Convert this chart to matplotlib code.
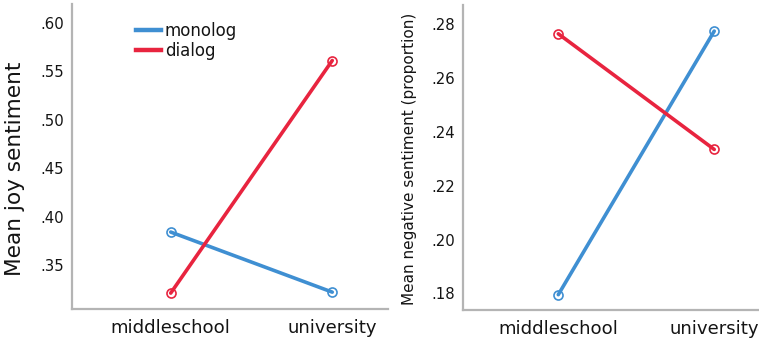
import matplotlib
matplotlib.use("Agg")
import matplotlib.pyplot as plt
from matplotlib.lines import Line2D
from matplotlib.ticker import FuncFormatter

# Data
groups = ["middleschool", "university"]
joy_monolog = [0.384, 0.322]
joy_dialog = [0.321, 0.561]
neg_monolog = [0.1795, 0.2775]
neg_dialog = [0.2765, 0.2335]
joy_ticks = [0.35, 0.40, 0.45, 0.50, 0.55, 0.60]
neg_ticks = [0.18, 0.20, 0.22, 0.24, 0.26, 0.28]
series_names = ["monolog", "dialog"]

BLUE = "#3f8fd2"
RED = "#e8243f"
SPINE = "#b4b4b4"
TEXT = "#141414"

plt.rcParams["font.family"] = ["DejaVu Sans"]

W, H = 759, 343
fig = plt.figure(figsize=(W / 100, H / 100), dpi=100)

ax1 = fig.add_axes([72 / W, 1 - 309 / H, (388 - 72) / W, (309 - 4) / H])
ax2 = fig.add_axes([463 / W, 1 - 310 / H, (759 - 463) / W, (310 - 5) / H])

def strip_zero(v, pos):
    s = f"{v:.2f}"
    return s[1:] if s.startswith("0") else s

def style(ax, ticks, ylim, xlim):
    ax.set_xlim(*xlim)
    ax.set_ylim(*ylim)
    ax.set_yticks(ticks)
    ax.yaxis.set_major_formatter(FuncFormatter(strip_zero))
    ax.set_xticks(range(len(groups)))
    ax.set_xticklabels(groups)
    for side in ("top", "right"):
        ax.spines[side].set_visible(False)
    for side in ("left", "bottom"):
        ax.spines[side].set_color(SPINE)
        ax.spines[side].set_linewidth(1.6)
    ax.tick_params(axis="both", length=0, colors=TEXT)
    ax.tick_params(axis="x", labelsize=13.1, pad=7)
    ax.tick_params(axis="y", labelsize=10.7, pad=6)

def series(ax, vals, color, label):
    ax.plot(range(len(groups)), vals, color=color, lw=2.6, label=label,
            marker="o", ms=6.5, mfc="none", mec=color, mew=1.2,
            solid_capstyle="round")

series(ax1, joy_monolog, BLUE, series_names[0])
series(ax1, joy_dialog, RED, series_names[1])
style(ax1, joy_ticks, (0.3046, 0.6193), (-0.611, 1.345))
ax1.set_ylabel("Mean joy sentiment", fontsize=15.6, color=TEXT)
ax1.yaxis.set_label_coords(-0.150, 0.459)

handles = [Line2D([], [], color=c, lw=3.2) for c in (BLUE, RED)]
ax1.legend(handles, series_names, loc="upper left",
           bbox_to_anchor=(0.18, 0.962), frameon=False,
           fontsize=12, handlelength=1.5, handletextpad=0.25,
           labelspacing=0.12, borderaxespad=0.0, labelcolor=TEXT)

series(ax2, neg_monolog, BLUE, series_names[0])
series(ax2, neg_dialog, RED, series_names[1])
style(ax2, neg_ticks, (0.1738, 0.2872), (-0.611, 1.287))
ax2.set_ylabel("Mean negative sentiment (proportion)", fontsize=11.0,
               color=TEXT)
ax2.yaxis.set_label_coords(-0.155, 0.495)

fig.savefig("out.png", dpi=100)
